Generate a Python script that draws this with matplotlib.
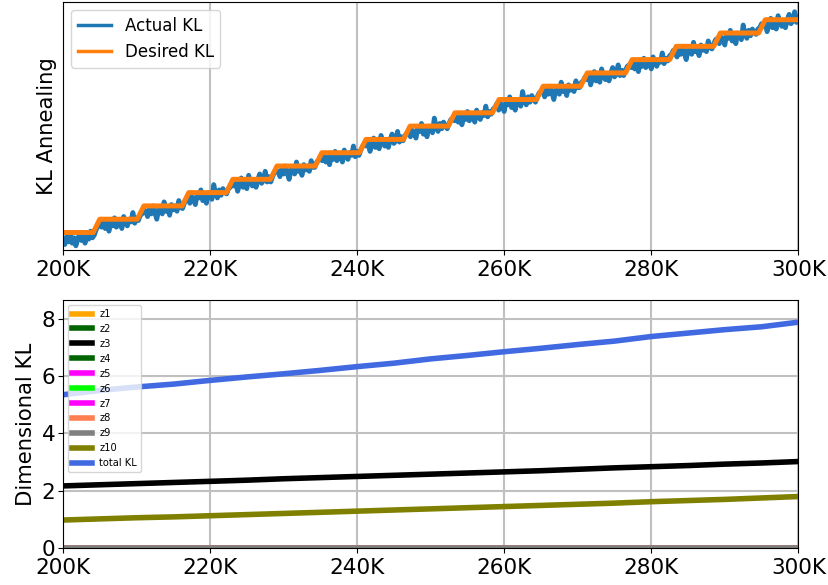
import numpy as np
import matplotlib
matplotlib.use("Agg")
import matplotlib.pyplot as plt
from matplotlib.ticker import FuncFormatter

# --- top panel: KL annealing (arbitrary units, one unit per step) ---
step_x = np.arange(200, 300.01, 0.25)
actual_kl = [
    -0.5, -0.9, -0.3, -0.7, -0.2, -0.8, -0.4, -1.0, -0.5, -0.1, -0.6, -0.3, -0.8, -0.2, -0.5, 0.1, -0.4,
    -0.2, 0.2, 0.5, 0.6,
    0.4, 0.9, 0.3, 0.7, 0.1, 0.8, 0.5, 1.1, 0.4, 0.6, 0.9, 0.3, 1.2, 0.7, 0.5, 1.0, 0.8, 1.5, 0.7, 1.1,
    0.9, 1.3, 1.4, 1.7,
    1.6, 1.2, 1.8, 1.4, 2.0, 1.5, 1.0, 1.7, 1.9, 1.4, 2.3, 1.6, 1.8, 1.3, 2.1, 1.7, 2.0, 1.6, 2.4, 1.9,
    1.8, 2.2, 2.5, 2.6,
    2.2, 2.7, 2.5, 2.1, 2.9, 2.6, 3.2, 2.4, 2.7, 2.2, 3.0, 2.8, 2.5, 3.6, 2.9, 2.6, 3.2, 2.8, 3.3, 3.0,
    2.9, 3.3, 3.4, 3.7,
    3.5, 3.8, 3.1, 3.6, 4.1, 3.4, 3.7, 3.3, 4.3, 3.8, 3.5, 3.9, 3.4, 4.0, 4.4, 3.7, 3.9, 4.6, 3.8, 4.2,
    3.8, 4.2, 4.5, 4.6,
    4.6, 4.2, 4.8, 4.4, 5.0, 4.5, 4.0, 4.7, 4.9, 4.4, 5.3, 4.6, 4.8, 4.3, 5.1, 4.7, 5.0, 4.6, 5.4, 4.9,
    4.9, 5.3, 5.4, 5.7,
    5.4, 5.9, 5.3, 5.7, 5.1, 5.8, 5.5, 6.1, 5.4, 5.6, 5.9, 5.3, 6.2, 5.7, 5.5, 6.0, 5.8, 6.5, 5.7, 6.1,
    5.8, 6.2, 6.5, 6.6,
    6.5, 6.8, 6.1, 6.6, 7.1, 6.4, 6.7, 6.3, 7.3, 6.8, 6.5, 6.9, 6.4, 7.0, 7.4, 6.7, 6.9, 7.6, 6.8, 7.2,
    6.9, 7.3, 7.4, 7.7,
    7.2, 7.7, 7.5, 7.1, 7.9, 7.6, 8.2, 7.4, 7.7, 7.2, 8.0, 7.8, 7.5, 8.6, 7.9, 7.6, 8.2, 7.8, 8.3, 8.0,
    7.8, 8.2, 8.5, 8.6,
    8.4, 8.9, 8.3, 8.7, 8.1, 8.8, 8.5, 9.1, 8.4, 8.6, 8.9, 8.3, 9.2, 8.7, 8.5, 9.0, 8.8, 9.5, 8.7, 9.1,
    8.9, 9.3, 9.4, 9.7,
    9.2, 9.7, 9.5, 9.1, 9.9, 9.6, 10.2, 9.4, 9.7, 9.2, 10.0, 9.8, 9.5, 10.6, 9.9, 9.6, 10.2, 9.8, 10.3, 10.0,
    9.8, 10.2, 10.5, 10.6,
    10.6, 10.2, 10.8, 10.4, 11.0, 10.5, 10.0, 10.7, 10.9, 10.4, 11.3, 10.6, 10.8, 10.3, 11.1, 10.7, 11.0, 10.6, 11.4, 10.9,
    10.9, 11.3, 11.4, 11.7,
    11.5, 11.8, 11.1, 11.6, 12.1, 11.4, 11.7, 11.3, 12.3, 11.8, 11.5, 11.9, 11.4, 12.0, 12.4, 11.7, 11.9, 12.6, 11.8, 12.2,
    11.8, 12.2, 12.5, 12.6,
    12.4, 12.9, 12.3, 12.7, 12.1, 12.8, 12.5, 13.1, 12.4, 12.6, 12.9, 12.3, 13.2, 12.7, 12.5, 13.0, 12.8, 13.5, 12.7, 13.1,
    12.9, 13.3, 13.4, 13.7,
    13.6, 13.2, 13.8, 13.4, 14.0, 13.5, 13.0, 13.7, 13.9, 13.4, 14.3, 13.6, 13.8, 13.3, 14.1, 13.7, 14.0, 13.6, 14.4, 13.9,
    13.8, 14.2, 14.5, 14.6,
    14.2, 14.7, 14.5, 14.1, 14.9, 14.6, 15.2, 14.4, 14.7, 14.2, 15.0, 14.8, 14.5, 15.6, 14.9, 14.6, 15.2, 14.8, 15.3, 15.0,
    14.9, 15.3, 15.4, 15.7,
    15.5, 15.8, 15.1, 15.6, 16.1, 15.4, 15.7, 15.3, 16.3, 15.8, 15.5, 15.9, 15.4, 16.0, 16.4, 15.7, 15.9, 16.6, 15.8, 16.2,
]
# step ramps of the desired KL (start of each ramp, in K steps)
ramp_start = [204.1, 210.1, 216.2, 222.2, 228.2, 234.3, 240.3, 246.3,
              252.4, 258.4, 264.4, 270.4, 276.5, 282.5, 288.5, 294.6]
ramp_len = 0.9

desired_x = [200.0]
desired_y = [0]
for k, r in enumerate(ramp_start):
    desired_x += [r, r + ramp_len]
    desired_y += [k, k + 1]
desired_x.append(300.0)
desired_y.append(len(ramp_start))

# --- bottom panel: per-dimension KL ---
dim_x = np.arange(200, 301, 5)
total_kl = [5.35, 5.5, 5.62, 5.72, 5.85, 5.97, 6.08, 6.2, 6.33, 6.45, 6.6,
            6.72, 6.85, 6.97, 7.1, 7.22, 7.38, 7.5, 7.62, 7.72, 7.88]
z3_kl = [2.17, 2.21, 2.25, 2.29, 2.33, 2.37, 2.42, 2.46, 2.5, 2.54, 2.58,
         2.62, 2.66, 2.7, 2.75, 2.8, 2.84, 2.88, 2.93, 2.97, 3.02]
z10_kl = [0.98, 1.02, 1.06, 1.09, 1.13, 1.17, 1.21, 1.25, 1.29, 1.33, 1.37,
          1.41, 1.45, 1.49, 1.53, 1.57, 1.62, 1.66, 1.7, 1.75, 1.8]
zero_kl = [0.01] * len(dim_x)

dim_names = ['z1', 'z2', 'z3', 'z4', 'z5', 'z6', 'z7', 'z8', 'z9', 'z10']
dim_colors = ['orange', 'darkgreen', 'black', 'darkgreen', 'magenta',
              'lime', 'magenta', 'coral', 'gray', 'olive']
dim_values = [zero_kl, zero_kl, z3_kl, zero_kl, zero_kl,
              zero_kl, zero_kl, zero_kl, zero_kl, z10_kl]

kfmt = FuncFormatter(lambda v, p: '%dK' % v)

fig = plt.figure(figsize=(8.29, 5.85), dpi=100)
ax1 = fig.add_axes([0.076, 0.573, 0.887, 0.424])
ax2 = fig.add_axes([0.076, 0.063, 0.887, 0.424])

ax1.plot(step_x, actual_kl, color='#1f77b4', lw=3.5, label='Actual KL')
ax1.plot(desired_x, desired_y, color='#ff7f0e', lw=3.6, label='Desired KL')
ax1.set_xlim(200, 300)
ax1.set_ylim(-1.3, 17.35)
ax1.set_yticks([])
ax1.set_xticks(range(200, 301, 20))
ax1.xaxis.set_major_formatter(kfmt)
ax1.grid(True, axis='x', color='#c0c0c0', lw=1.5)
ax1.set_ylabel('KL Annealing', fontsize=15.2)
ax1.tick_params(labelsize=15.5)
leg1 = ax1.legend(loc='upper left', fontsize=12)
for h in leg1.get_lines():
    h.set_linewidth(2.5)

for name, col, vals in zip(dim_names, dim_colors, dim_values):
    ax2.plot(dim_x, vals, color=col, lw=4, label=name)
ax2.plot(dim_x, total_kl, color='royalblue', lw=4, label='total KL')
ax2.set_xlim(200, 300)
ax2.set_ylim(0, 8.65)
ax2.set_xticks(range(200, 301, 20))
ax2.set_yticks([0, 2, 4, 6, 8])
ax2.xaxis.set_major_formatter(kfmt)
ax2.grid(True, color='#c0c0c0', lw=1.5)
ax2.set_ylabel('Dimensional KL', fontsize=15.2)
ax2.tick_params(labelsize=15.5)
ax2.tick_params(axis='y', pad=2)
ax2.legend(loc='upper left', fontsize=7.1)

fig.savefig('out.png', dpi=100)
